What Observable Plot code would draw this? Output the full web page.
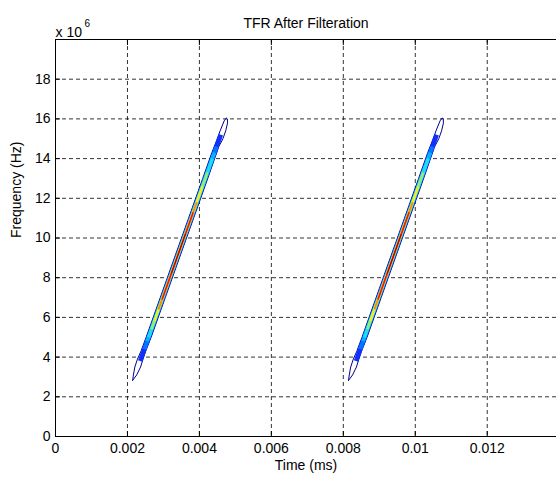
<!DOCTYPE html>
<html><head><meta charset="utf-8">
<script src="https://cdn.jsdelivr.net/npm/d3@7"></script>
<script src="https://cdn.jsdelivr.net/npm/@observablehq/plot@0.6"></script>
<style>html,body{margin:0;padding:0;background:#fff;overflow:hidden}</style>
</head><body><div id="chart"></div>
<script>
// Axis ticks
const xTicks = [0, 0.002, 0.004, 0.006, 0.008, 0.01, 0.012];
const xTickLabels = ["0", "0.002", "0.004", "0.006", "0.008", "0.01", "0.012"];
const yTicks = [0, 2, 4, 6, 8, 10, 12, 14, 16, 18];
const yTickLabels = ["0", "2", "4", "6", "8", "10", "12", "14", "16", "18"];

// Outer (lowest) contour of each chirp: frequency (x10^6 Hz) and time (ms)
const outerFreq = [2.83, 3.1, 3.5, 3.9, 4.3, 5.0, 7.0, 9.0, 11.0, 13.0, 14.6, 15.0, 15.4, 15.8, 16.0, 16.05,
  15.9, 15.4, 14.9, 14.3, 13.0, 11.0, 9.0, 7.0, 5.0, 4.3, 3.9, 3.5, 3.1, 2.83];
const outerTime1 = [0.002145, 0.002257, 0.002364, 0.002433, 0.002507, 0.002659, 0.003052, 0.003445, 0.003839, 0.004232, 0.004538, 0.004653, 0.004731, 0.004783, 0.004777, 0.004747,
  0.004688, 0.004576, 0.004475, 0.004346, 0.004092, 0.003699, 0.003305, 0.002912, 0.002519, 0.002376, 0.002278, 0.002205, 0.002165, 0.002145];
const outerTime2 = [0.008145, 0.008257, 0.008364, 0.008433, 0.008507, 0.008659, 0.009052, 0.009445, 0.009839, 0.010232, 0.010538, 0.010653, 0.010731, 0.010783, 0.010777, 0.010747,
  0.010688, 0.010576, 0.010475, 0.010346, 0.010092, 0.009699, 0.009305, 0.008912, 0.008519, 0.008376, 0.008278, 0.008205, 0.008165, 0.008145];

// Inner contour levels (dense ridge), from low to high energy
const levelNames = ["l2", "l3", "l4", "l5", "l6", "l7", "l8", "l9", "l10"];
const ridgeFreqLo = [3.8, 4.4, 4.8, 5.0, 5.4, 5.8, 6.4, 6.9, 8.2];
const ridgeFreqHi = [15.2, 14.6, 14.3, 14.0, 13.3, 12.6, 11.8, 11.3, 10.2];
const ridgeTimeLo1 = [0.002353, 0.002471, 0.002549, 0.002589, 0.002667, 0.002746, 0.002864, 0.002962, 0.003218];
const ridgeTimeHi1 = [0.004595, 0.004477, 0.004418, 0.004359, 0.004221, 0.004083, 0.003926, 0.003828, 0.003611];
const ridgeTimeLo2 = [0.008353, 0.008471, 0.008549, 0.008589, 0.008667, 0.008746, 0.008864, 0.008962, 0.009218];
const ridgeTimeHi2 = [0.010595, 0.010477, 0.010418, 0.010359, 0.010221, 0.010083, 0.009926, 0.009828, 0.009611];

// styles
const levelColors = ["#1030FF", "#0078FF", "#00B4FF", "#20DCF0", "#90F070", "#F0F020", "#FF8C00", "#FF1000", "#900000"];
const levelWidths = [4.6, 4.0, 3.6, 3.2, 2.6, 2.3, 1.9, 1.5, 0.8];

const outer = [
  ...outerFreq.map((f, i) => ({chirp: 1, t: outerTime1[i], f})),
  ...outerFreq.map((f, i) => ({chirp: 2, t: outerTime2[i], f}))
];
const ridges = levelNames.flatMap((name, i) => [
  {level: i, t1: ridgeTimeLo1[i], t2: ridgeTimeHi1[i], f1: ridgeFreqLo[i], f2: ridgeFreqHi[i]},
  {level: i, t1: ridgeTimeLo2[i], t2: ridgeTimeHi2[i], f1: ridgeFreqLo[i], f2: ridgeFreqHi[i]}
]);

const font = "Liberation Sans, Arial, sans-serif";
const chart = Plot.plot({
  width: 556,
  height: 478,
  marginLeft: 55,
  marginRight: 0,
  marginTop: 39,
  marginBottom: 42,
  style: {fontFamily: font, fontSize: "14px", background: "#fff", color: "#000"},
  x: {domain: [0, 0.013925]},
  y: {domain: [0, 20]},
  marks: [
    Plot.gridX(xTicks, {stroke: "#000", strokeOpacity: 0.8, strokeDasharray: "4,3"}),
    Plot.gridY(yTicks, {stroke: "#000", strokeOpacity: 0.8, strokeDasharray: "4,3"}),
    Plot.line(outer, {x: "t", y: "f", z: "chirp", stroke: "#000090", strokeWidth: 1}),
    ...levelNames.map((name, i) => Plot.link(ridges.filter(d => d.level === i), {
      x1: "t1", y1: "f1", x2: "t2", y2: "f2",
      stroke: levelColors[i], strokeWidth: levelWidths[i], strokeLinecap: "butt"
    })),
    Plot.ruleX([0], {stroke: "#000", strokeWidth: 1}),
    Plot.ruleY([0, 20], {stroke: "#000", strokeWidth: 1}),
    Plot.axisX(xTicks, {anchor: "bottom", tickSize: -5, tickPadding: 12, tickFormat: d => xTickLabels[xTicks.indexOf(d)], label: null, fontSize: 14}),
    Plot.axisX(xTicks, {anchor: "top", tickSize: -5, tickFormat: () => "", label: null}),
    Plot.axisY(yTicks, {anchor: "left", tickSize: -5, tickPadding: 10, tickFormat: d => yTickLabels[yTicks.indexOf(d)], label: null, fontSize: 14}),
    Plot.text(["TFR After Filteration"], {frameAnchor: "top", dy: -21, fontSize: 14}),
    Plot.text(["Time (ms)"], {frameAnchor: "bottom", dy: 33, fontSize: 14}),
    Plot.text(["Frequency (Hz)"], {frameAnchor: "left", dx: -39, rotate: -90, fontSize: 14}),
    Plot.text(["x 10"], {frameAnchor: "top-left", dy: -12, textAnchor: "start", fontSize: 14}),
    Plot.text(["6"], {frameAnchor: "top-left", dx: 29, dy: -20, textAnchor: "start", fontSize: 10})
  ]
});
document.getElementById("chart").appendChild(chart);
</script></body></html>
